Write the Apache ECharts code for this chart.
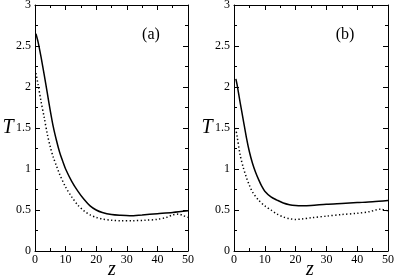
<!DOCTYPE html>
<html><head><meta charset="utf-8">
<script src="https://cdn.jsdelivr.net/npm/echarts@6/dist/echarts.min.js"></script>
<style>html,body{margin:0;padding:0;background:#fff}#c{width:395px;height:278px}</style>
</head><body><div id="c"></div>
<script>
// Panel (a)
const aSolidZ = [0.3, 1, 2, 3, 4, 5, 6, 7, 8, 9, 10, 12, 14, 16, 18, 20, 22, 25, 28, 31, 35, 40, 45, 50];
const aSolidT = [2.65, 2.55, 2.36, 2.15, 1.93, 1.71, 1.51, 1.35, 1.21, 1.1, 1.0, 0.85, 0.73, 0.63, 0.55, 0.5, 0.47, 0.445, 0.435, 0.43, 0.44, 0.455, 0.47, 0.49];
const aDotZ = [0.3, 1, 2, 3, 4, 5, 6, 7, 8, 10, 12, 14, 16, 18, 20, 22, 25, 28, 32, 36, 40, 43, 45, 47, 48.5, 50];
const aDotT = [2.17, 2.03, 1.82, 1.63, 1.43, 1.27, 1.14, 1.04, 0.94, 0.78, 0.66, 0.56, 0.49, 0.44, 0.41, 0.39, 0.375, 0.37, 0.37, 0.375, 0.386, 0.41, 0.44, 0.45, 0.43, 0.41];
// Panel (b)
const bSolidZ = [0.6, 1, 2, 3, 4, 5, 6, 7, 8, 9, 10, 12, 14, 16, 18, 20, 22, 25, 30, 35, 40, 45, 50];
const bSolidT = [2.1, 2.03, 1.81, 1.6, 1.39, 1.21, 1.07, 0.96, 0.87, 0.79, 0.73, 0.66, 0.62, 0.585, 0.565, 0.555, 0.552, 0.555, 0.57, 0.58, 0.59, 0.6, 0.615];
const bDotZ = [0.5, 1, 2, 3, 4, 5, 6, 8, 10, 12, 14, 16, 18, 20, 22, 25, 30, 35, 40, 44, 46, 47.5, 50];
const bDotT = [1.5, 1.4, 1.17, 1.02, 0.9, 0.8, 0.72, 0.62, 0.55, 0.5, 0.45, 0.415, 0.395, 0.385, 0.39, 0.405, 0.425, 0.445, 0.46, 0.48, 0.5, 0.51, 0.49];
const xTicks = {min: 0, max: 50, interval: 10};
const yTicks = {min: 0, max: 3, interval: 0.5};
const panelLabels = ['(a)', '(b)'];
const xName = 'z', yName = 'T';

const FONT = 'Liberation Serif';
const zip = (a, b) => a.map((v, i) => [v, b[i]]);
const grids = [
  {left: 35, top: 5, width: 153, height: 246, outerBoundsMode: 'none', containLabel: false},
  {left: 234, top: 5, width: 154, height: 246, outerBoundsMode: 'none', containLabel: false}
];
const xAxes = [], yAxes = [];
grids.forEach((g, gi) => {
  const tick = {show: true, inside: true, length: 5, lineStyle: {color: '#000', width: 1}};
  const minor = {show: true, splitNumber: 2, length: 3, lineStyle: {color: '#000', width: 1}};
  const line = {show: true, onZero: false, lineStyle: {color: '#000', width: 1}};
  xAxes.push({type: 'value', gridIndex: gi, min: xTicks.min, max: xTicks.max, interval: xTicks.interval,
    axisLine: line, axisTick: tick, minorTick: minor, splitLine: {show: false},
    axisLabel: {color: '#000', fontFamily: FONT, fontSize: 12, margin: 3}});
  xAxes.push({type: 'value', gridIndex: gi, position: 'top', min: xTicks.min, max: xTicks.max, interval: xTicks.interval,
    axisLine: line, axisTick: tick, minorTick: minor, splitLine: {show: false}, axisLabel: {show: false}});
  yAxes.push({type: 'value', gridIndex: gi, min: yTicks.min, max: yTicks.max, interval: yTicks.interval,
    axisLine: line, axisTick: tick, minorTick: minor, splitLine: {show: false},
    axisLabel: {color: '#000', fontFamily: FONT, fontSize: 12, margin: 4}});
  yAxes.push({type: 'value', gridIndex: gi, position: 'right', min: yTicks.min, max: yTicks.max, interval: yTicks.interval,
    axisLine: line, axisTick: tick, minorTick: minor, splitLine: {show: false}, axisLabel: {show: false}});
});
const solid = {color: '#000', width: 1.5};
const dotted = {color: '#000', width: 1.5, type: [1.3, 2.4]};
const mk = (xi, yi, data, ls) => ({type: 'line', xAxisIndex: xi, yAxisIndex: yi, data, showSymbol: false, smooth: 0.3, lineStyle: ls, silent: true});
const txt = (x, y, text, font) => ({type: 'text', x, y, style: {text, font, fill: '#000', align: 'center', verticalAlign: 'middle'}});
const chart = echarts.init(document.getElementById('c'), null, {renderer: 'canvas'});
chart.setOption({
  animation: false,
  grid: grids,
  xAxis: xAxes,
  yAxis: yAxes,
  series: [
    mk(0, 0, zip(aSolidZ, aSolidT), solid),
    mk(0, 0, zip(aDotZ, aDotT), dotted),
    mk(2, 2, zip(bSolidZ, bSolidT), solid),
    mk(2, 2, zip(bDotZ, bDotT), dotted)
  ],
  graphic: [
    txt(151, 35, panelLabels[0], '16px "Liberation Serif"'),
    txt(345, 35, panelLabels[1], '16px "Liberation Serif"'),
    txt(8, 128, yName, 'italic 20px "Liberation Serif"'),
    txt(207, 128, yName, 'italic 20px "Liberation Serif"'),
    txt(112, 270, xName, 'italic 20px "Liberation Serif"'),
    txt(310, 270, xName, 'italic 20px "Liberation Serif"')
  ]
});
</script></body></html>
